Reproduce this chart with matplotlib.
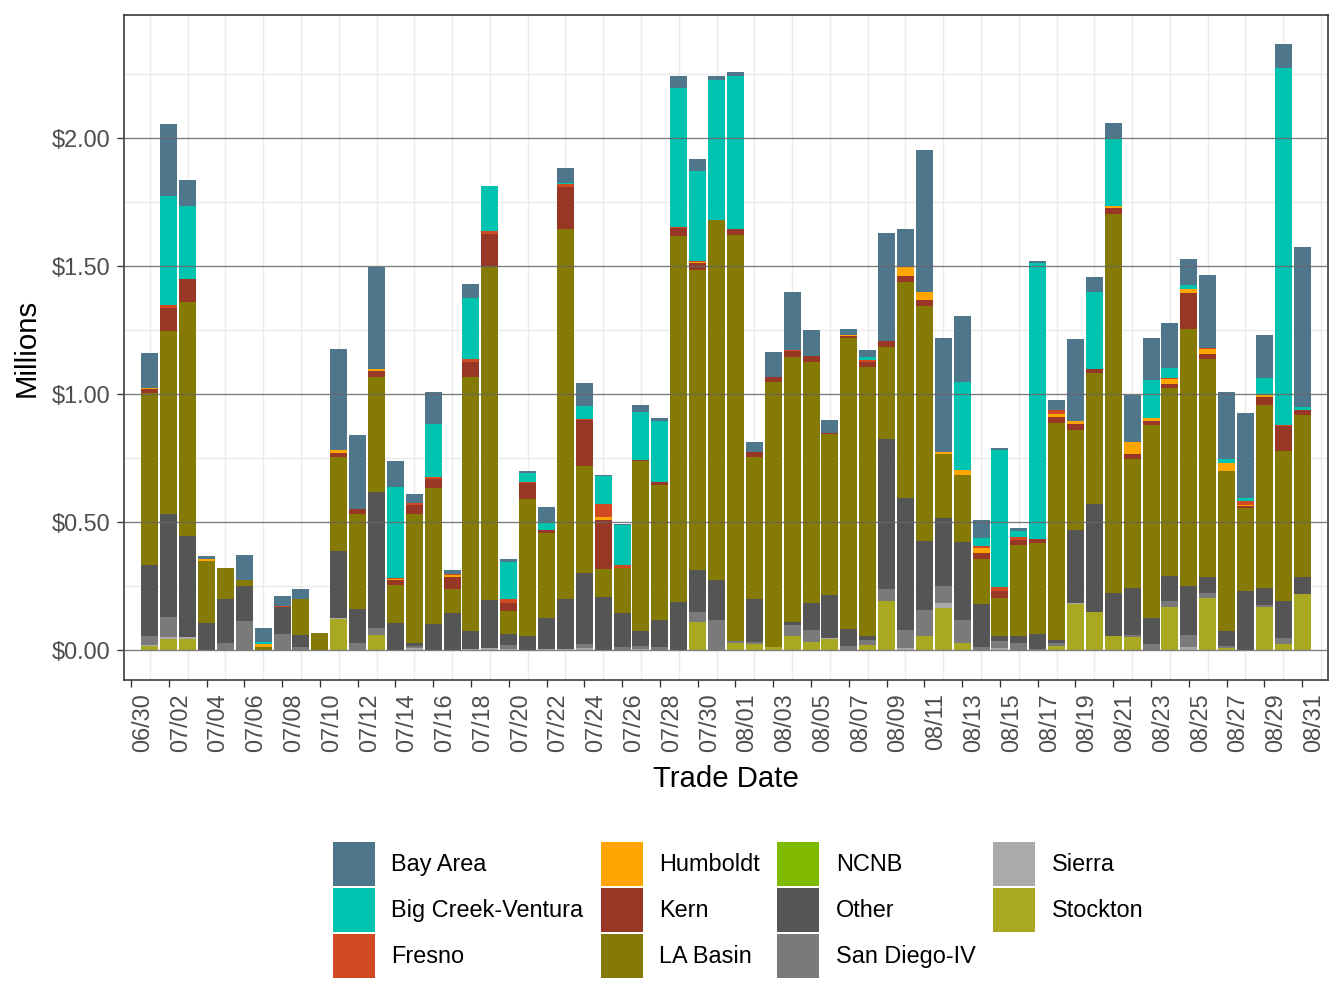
import numpy as np
import pandas as pd
import matplotlib
matplotlib.use("Agg")
import matplotlib.pyplot as plt
from matplotlib.patches import Patch

plt.rcParams['font.family'] = ['Liberation Sans', 'DejaVu Sans']

# trade dates 07/01 .. 08/31, values in $ millions
dates = pd.date_range("2023-07-01", "2023-08-31", freq="D")

stockton = [.015, .042, .045, 0, 0, 0, 0, 0, 0, 0,
            .121, 0, .059, 0, 0, 0, 0, 0, 0, 0,
            0, 0, 0, 0, 0, 0, 0, 0, 0, .108, 0,
            .028, .024, .013, .055, .031, .043, 0, .020, .19, 0,
            .056, .166, .026, 0, 0, 0, 0, .016, .180, .15,
            .056, .052, 0, .17, 0, .205, .009, 0, .170, .024, .217]
sierra = [.003, .007, .004, 0, 0, 0, 0, 0, 0, 0,
          .004, 0, 0, 0, .008, 0, 0, .005, .007, .005,
          0, .005, .005, .009, 0, 0, .004, 0, 0, 0, 0,
          0, 0, 0, 0, 0, .004, 0, 0, 0, .009,
          0, .016, 0, 0, .008, 0, 0, 0, .004, 0,
          0, 0, 0, 0, .010, 0, 0, 0, 0, 0, 0]
san_diego = [.037, .081, 0, 0, .026, .112, 0, .061, .010, 0,
             0, .027, .027, 0, .008, 0, 0, 0, 0, .016,
             0, 0, 0, .016, 0, .013, .012, .010, 0, .040, .118,
             .007, .009, 0, .043, .047, 0, .016, .020, .05, .070,
             .102, .067, .093, .013, .027, .027, .004, .012, 0, 0,
             0, .008, .022, .02, .047, .016, .005, 0, .005, .024, .003]
other = [.278, .403, .395, .107, .172, .137, 0, .106, .047, 0,
         .262, .133, .531, .105, .012, .102, .145, .069, .189, .043,
         .056, .121, .196, .274, .208, .132, .058, .108, .186, .166, .157,
         0, .168, 0, .012, .106, .168, .066, .016, .584, .513,
         .266, .268, .302, .168, .020, .027, .059, .012, .285, .42,
         .168, .184, .104, .10, .192, .063, .061, .230, .069, .142, .066]
ncnb = [0] * 62
la_basin = [.671, .711, .916, .242, .121, .026, .010, 0, .141, .066,
            .367, .371, .449, .148, .505, .532, .094, .993, 1.299, .090,
            .532, .332, 1.443, .419, .109, .177, .665, .528, 1.431, 1.171, 1.404,
            1.585, .552, 1.033, 1.033, .939, .630, 1.138, 1.048, .360, .846,
            .920, .249, .262, .176, .148, .355, .355, .848, .391, .512,
            1.479, .504, .751, .734, 1.004, .853, .626, .324, .713, .587, .631]
kern = [.016, .092, .090, 0, 0, 0, 0, 0, 0, 0,
        .016, .020, .023, .020, .033, .035, .047, .059, .129, .030,
        .066, .012, .164, .180, .189, 0, .003, .009, .030, .025, 0,
        .025, .022, .022, .023, .027, .004, .008, .020, .022, .023,
        .023, 0, 0, .023, .027, .020, .016, .023, .023, .016,
        .023, .019, .019, .016, .140, .020, 0, .008, .031, .096, .019]
humboldt = [.004, 0, 0, .005, 0, 0, .012, 0, 0, 0,
            .012, 0, .008, .006, 0, 0, .008, 0, 0, 0,
            0, 0, 0, 0, .012, 0, 0, 0, 0, .006, 0,
            0, 0, 0, 0, 0, 0, .004, 0, 0, .033,
            .031, .009, .020, .020, 0, 0, 0, .012, .012, 0,
            .008, .047, .011, .018, .016, .019, .030, .005, .009, 0, 0]
fresno = [0, .011, 0, 0, 0, 0, 0, .004, 0, 0,
          0, 0, 0, .004, .008, .008, .004, .012, .014, .017,
          .004, 0, .012, .004, .051, .012, 0, 0, .004, .004, 0,
          0, 0, 0, .004, 0, 0, 0, .008, 0, 0,
          0, 0, 0, .008, .016, .012, 0, .016, 0, 0,
          0, 0, 0, .004, 0, .005, 0, .014, 0, .005, 0]
big_creek = [0, .425, .285, 0, 0, 0, .008, 0, 0, 0,
             0, 0, 0, .353, 0, .207, 0, .235, .173, .141,
             .035, .031, .004, .051, .109, .153, .186, .238, .545, .350, .549,
             .596, 0, 0, 0, 0, 0, 0, .012, 0, 0,
             0, 0, .345, .031, .535, .023, 1.078, 0, 0, .301,
             .266, 0, .149, .040, .015, 0, .017, .011, .066, 1.396, .013]
bay_area = [.136, .281, .101, .014, 0, .095, .055, .039, .039, 0,
            .395, .290, .400, .102, .034, .125, .016, .055, 0, .012,
            .008, .059, .059, .090, .007, .007, .027, .015, .046, .046, .013,
            .016, .036, .094, .227, .098, .051, .023, .027, .424, .151,
            .556, .445, .258, .067, .008, .012, .008, .039, .320, .059,
            .059, .181, .164, .177, .105, .285, .258, .334, .167, .094, .626]

# stacked bottom -> top
series = [
    ("Stockton", stockton, "#A9A821"),
    ("Sierra", sierra, "#AAAAAA"),
    ("San Diego-IV", san_diego, "#7A7A7A"),
    ("Other", other, "#555555"),
    ("NCNB", ncnb, "#7FBA00"),
    ("LA Basin", la_basin, "#857A03"),
    ("Kern", kern, "#983726"),
    ("Humboldt", humboldt, "#FFA500"),
    ("Fresno", fresno, "#D14A24"),
    ("Big Creek-Ventura", big_creek, "#00C4B0"),
    ("Bay Area", bay_area, "#4E778C"),
]

start = pd.Timestamp("2023-06-30")
x = np.array([(d - start).days for d in dates])
tick_pos = np.arange(0, 63, 2)
tick_labels = [(start + pd.Timedelta(days=int(t))).strftime("%m/%d") for t in tick_pos]

fig = plt.figure(figsize=(7, 5.25), dpi=192)
ax = fig.add_axes([124/1344, 1-680/1008, (1328-124)/1344, (680-15)/1008])

# light grid underneath
for v in np.arange(1, 64, 2):
    ax.axvline(v, color="#EBEBEB", lw=0.55, zorder=0)
for v in np.arange(0.25, 2.5, 0.5):
    ax.axhline(v, color="#EBEBEB", lw=0.55, zorder=0)

bottom = np.zeros(len(x))
for name, vals, col in series:
    vals = np.array(vals, dtype=float)
    ax.bar(x, vals, width=0.9, bottom=bottom, color=col, linewidth=0, zorder=2)
    bottom += vals

for v in np.arange(0, 2.01, 0.5):
    ax.axhline(v, color="#666666", lw=0.5, zorder=3, alpha=0.85)

ax.set_xlim(-0.37, 63.37)
ax.set_ylim(-0.117, 2.48)
ax.set_yticks(np.arange(0, 2.01, 0.5))
ax.set_yticklabels([f"${v:.2f}" for v in np.arange(0, 2.01, 0.5)])
ax.set_xticks(tick_pos)
ax.set_xticklabels(tick_labels, rotation=90, ha="left")
ax.tick_params(axis="both", colors="#333333", labelcolor="#4D4D4D",
               labelsize=8.8, length=2.75, width=0.5, pad=2.2)
for s in ax.spines.values():
    s.set_color("#333333")
    s.set_linewidth(0.6)

fig.text(726/1344, 1-779/1008, "Trade Date", ha="center", va="center", fontsize=11)
fig.text(27/1344, 1-348/1008, "Millions", ha="center", va="center",
         rotation=90, fontsize=11)

legend_order = ["Bay Area", "Big Creek-Ventura", "Fresno", "Humboldt", "Kern",
                "LA Basin", "NCNB", "Other", "San Diego-IV", "Sierra", "Stockton"]
colors = {name: col for name, _, col in series}
handles = [Patch(facecolor=colors[n], edgecolor="none", label=n) for n in legend_order]
fig.legend(handles=handles, ncol=4, loc="center", bbox_to_anchor=(0.549, 0.0972),
           frameon=False, fontsize=8.8, handlelength=1.79, handleheight=2.5,
           handletextpad=0.72, columnspacing=0.72, labelspacing=0.085)

fig.savefig("out.png", dpi=192)
